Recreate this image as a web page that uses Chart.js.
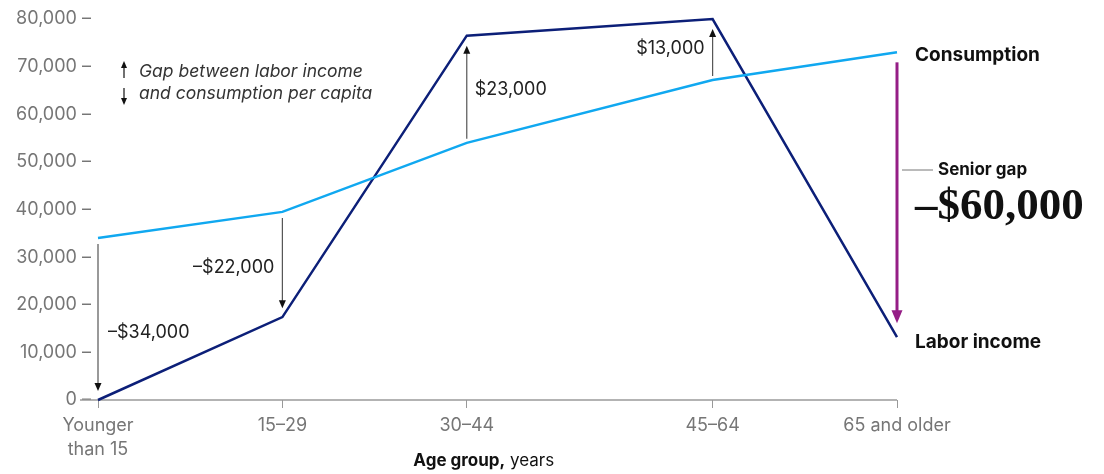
<!DOCTYPE html>
<html lang="en">
<head>
  <meta charset="UTF-8" />
  <title>Labor income and consumption by age group</title>
  <script src="https://cdn.jsdelivr.net/npm/chart.js"></script>
  <style>
    html, body { margin: 0; padding: 0; background: #fff; }
    #wrap { position: relative; width: 1104px; height: 474px; }
  </style>
</head>
<body>
  <div id="wrap"><canvas id="gapChart"></canvas></div>

  <script>
    // data
    const ageGroups = [['Younger', 'than 15'], '15–29', '30–44', '45–64', '65 and older'];
    const ageStart = [0, 15, 30, 50, 65];   // x position = start of the age band
    const consumption = [34000, 39500, 54000, 67200, 73000];
    const laborIncome = [0, 17400, 76500, 80000, 13200];
    const gapLabels = ['–$34,000', '–$22,000', '$23,000', '$13,000'];
    const seniorGap = '–$60,000';
    const yMax = 80000;
    const yStep = 10000;

    const FONT = 'Inter, "Noto Sans", sans-serif';
    const SERIF = '"Liberation Serif", "DejaVu Serif", serif';
    const NAVY = '#0c1f78';
    const SKY = '#10a8f0';
    const PURPLE = '#951e86';
    const GRAY = '#767676';

    function arrowHead(ctx, x, y, dir, w, h, color) {
      // dir: -1 points up, 1 points down
      ctx.fillStyle = color;
      ctx.beginPath();
      ctx.moveTo(x, y);
      ctx.lineTo(x - w / 2, y - dir * h);
      ctx.lineTo(x + w / 2, y - dir * h);
      ctx.closePath();
      ctx.fill();
    }

    function vArrow(ctx, x, y0, y1, color, lw, hw, hh) {
      const dir = y1 > y0 ? 1 : -1;
      ctx.strokeStyle = color;
      ctx.lineWidth = lw;
      ctx.beginPath();
      ctx.moveTo(x, y0);
      ctx.lineTo(x, y1 - dir * (hh - 1));
      ctx.stroke();
      arrowHead(ctx, x, y1, dir, hw, hh, '#111');
    }

    const annotations = {
      id: 'annotations',
      beforeDatasetsDraw(chart) {
        const { ctx, chartArea, scales: { y } } = chart;
        // baseline, extended to the left under the y tick dashes
        ctx.save();
        ctx.strokeStyle = '#9a9a9a';
        ctx.lineWidth = 1.5;
        ctx.beginPath();
        ctx.moveTo(80, y.getPixelForValue(0));
        ctx.lineTo(chartArea.right, y.getPixelForValue(0));
        ctx.stroke();
        ctx.restore();
      },
      afterDatasetsDraw(chart) {
        const { ctx, scales: { x, y } } = chart;
        ctx.save();

        // gap arrows for the first four groups
        ctx.font = '18px ' + FONT;
        ctx.textBaseline = 'middle';
        for (let i = 0; i < 4; i++) {
          const px = x.getPixelForValue(ageStart[i]);
          const cy = y.getPixelForValue(consumption[i]);
          const ly = y.getPixelForValue(laborIncome[i]);
          const down = ly > cy;
          const y0 = down ? cy + 6 : cy - 4;
          const y1 = down ? ly - 9 : ly + 10;
          vArrow(ctx, px, y0, y1, '#555', 1.2, 7, 8);
          const mid = (cy + ly) / 2;
          ctx.fillStyle = '#222';
          if (i === 0) { ctx.textAlign = 'left'; ctx.fillText(gapLabels[i], px + 10, mid + 14); }
          if (i === 1) { ctx.textAlign = 'right'; ctx.fillText(gapLabels[i], px - 8, mid + 3); }
          if (i === 2) { ctx.textAlign = 'left'; ctx.fillText(gapLabels[i], px + 8, y1 + 44); }
          if (i === 3) { ctx.textAlign = 'right'; ctx.fillText(gapLabels[i], px - 8, mid - 1); }
        }

        // senior gap arrow
        const sx = x.getPixelForValue(ageStart[4]);
        const scy = y.getPixelForValue(consumption[4]);
        const sly = y.getPixelForValue(laborIncome[4]);
        ctx.strokeStyle = PURPLE;
        ctx.lineWidth = 3;
        ctx.beginPath();
        ctx.moveTo(sx, scy + 10);
        ctx.lineTo(sx, sly - 24);
        ctx.stroke();
        ctx.fillStyle = PURPLE;
        ctx.beginPath();
        ctx.moveTo(sx, sly - 14);
        ctx.lineTo(sx - 5.5, sly - 27);
        ctx.lineTo(sx + 5.5, sly - 27);
        ctx.closePath();
        ctx.fill();

        // series labels
        ctx.fillStyle = '#111';
        ctx.textAlign = 'left';
        ctx.font = 'bold 19px ' + FONT;
        ctx.fillText('Consumption', sx + 18, scy + 3);
        ctx.fillText('Labor income', sx + 18, sly + 5);

        // senior gap callout
        ctx.strokeStyle = '#777';
        ctx.lineWidth = 1;
        ctx.beginPath();
        ctx.moveTo(sx + 5, 170);
        ctx.lineTo(sx + 36, 170);
        ctx.stroke();
        ctx.font = 'bold 17px ' + FONT;
        ctx.fillText('Senior gap', sx + 41, 170);
        ctx.font = 'bold 45px ' + SERIF;
        ctx.textBaseline = 'alphabetic';
        ctx.fillText(seniorGap, sx + 18, 219);

        // key: gap arrows
        ctx.textBaseline = 'middle';
        vArrow(ctx, 124, 78, 61, '#111', 1.2, 6, 7);
        vArrow(ctx, 124, 88, 105, '#111', 1.2, 6, 7);
        ctx.font = 'italic 17.5px ' + FONT;
        ctx.fillStyle = '#333';
        ctx.fillText('Gap between labor income', 139, 72);
        ctx.fillText('and consumption per capita', 139, 94);

        // x axis title
        const cx = x.getPixelForValue(ageStart[2]) + 17;
        ctx.font = 'bold 17px ' + FONT;
        const boldPart = 'Age group,';
        const wBold = ctx.measureText(boldPart).width;
        ctx.font = '17px ' + FONT;
        const restPart = ' years';
        const wRest = ctx.measureText(restPart).width;
        const startX = cx - (wBold + wRest) / 2;
        ctx.fillStyle = '#111';
        ctx.font = 'bold 17px ' + FONT;
        ctx.fillText(boldPart, startX, 461);
        ctx.font = '17px ' + FONT;
        ctx.fillText(restPart, startX + wBold, 461);

        ctx.restore();
      }
    };

    const ctx = document.getElementById('gapChart').getContext('2d');
    new Chart(ctx, {
      type: 'line',
      data: {
        datasets: [
          {
            label: 'Consumption',
            data: ageStart.map((a, i) => ({ x: a, y: consumption[i] })),
            borderColor: SKY,
            borderWidth: 2.5,
            pointRadius: 0,
            tension: 0,
            clip: false
          },
          {
            label: 'Labor income',
            data: ageStart.map((a, i) => ({ x: a, y: laborIncome[i] })),
            borderColor: NAVY,
            borderWidth: 2.5,
            pointRadius: 0,
            tension: 0,
            clip: false
          }
        ]
      },
      options: {
        responsive: true,
        maintainAspectRatio: false,
        animation: false,
        layout: { padding: { top: 19, right: 207, left: 0, bottom: 0 } },
        plugins: {
          legend: { display: false },
          tooltip: { enabled: false }
        },
        scales: {
          x: {
            type: 'linear',
            min: ageStart[0],
            max: ageStart[ageStart.length - 1],
            afterBuildTicks: scale => { scale.ticks = ageStart.map(v => ({ value: v })); },
            afterFit: scale => { scale.height = 74; },
            border: { display: false },
            grid: { drawOnChartArea: false, drawTicks: true, tickLength: 8, color: '#999', lineWidth: 1 },
            ticks: {
              autoSkip: false,
              maxRotation: 0,
              padding: 6,
              color: GRAY,
              font: { family: FONT, size: 18, lineHeight: 1.3 },
              callback: (v, i) => ageGroups[i]
            }
          },
          y: {
            min: 0,
            max: yMax,
            afterFit: scale => { scale.width = 98; },
            border: { display: false },
            grid: { display: false, drawTicks: false },
            ticks: {
              stepSize: yStep,
              padding: 7,
              color: GRAY,
              font: { family: FONT, size: 18 },
              callback: v => v.toLocaleString('en-US') + ' –'
            }
          }
        }
      },
      plugins: [annotations]
    });
  </script>
</body>
</html>
